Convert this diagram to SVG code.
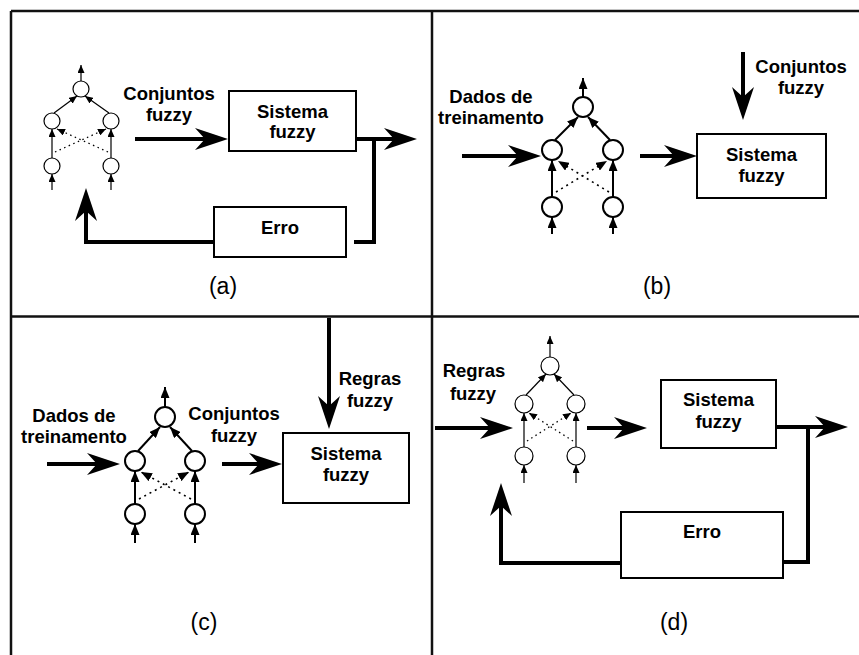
<svg xmlns="http://www.w3.org/2000/svg" width="859" height="655" viewBox="0 0 859 655">
<defs>
<style>
.frame{stroke:#111;stroke-width:2.5;fill:none}
.box{fill:#fff;stroke:#000;stroke-width:2}
.lbl{font-family:"Liberation Sans",Arial,sans-serif;font-weight:bold;font-size:18.5px;text-anchor:middle;fill:#000}
.cap{font-family:"Liberation Sans",Arial,sans-serif;font-size:23px;text-anchor:middle;fill:#000}
.big{stroke:#000;stroke-width:4;fill:none;marker-end:url(#bigArrow)}
.wire{stroke:#000;stroke-width:4;fill:none}
.neuron{fill:#fff;stroke:#000}
.thin .neuron{stroke-width:1.2}
.thick .neuron{stroke-width:2}
.thin .e{stroke:#000;stroke-width:1.2;fill:none;marker-end:url(#sm)}
.thin .d{stroke:#000;stroke-width:1.3;fill:none;stroke-dasharray:1.5 3.5;marker-end:url(#sm)}
.thick .e{stroke:#000;stroke-width:2;fill:none;marker-end:url(#md)}
.thick .d{stroke:#000;stroke-width:1.6;fill:none;stroke-dasharray:2 4;marker-end:url(#md)}
</style>
<marker id="bigArrow" markerUnits="userSpaceOnUse" markerWidth="36" markerHeight="24" refX="10" refY="11" orient="auto">
<path d="M0,0 L33,11 L0,22 L10,11 z" fill="#000"/>
</marker>
<marker id="sm" markerUnits="userSpaceOnUse" markerWidth="8" markerHeight="7" refX="8" refY="3.5" orient="auto">
<path d="M0,0 L8,3.5 L0,7 z" fill="#000"/>
</marker>
<marker id="md" markerUnits="userSpaceOnUse" markerWidth="11" markerHeight="9" refX="11" refY="4.5" orient="auto">
<path d="M0,0 L11,4.5 L0,9 z" fill="#000"/>
</marker>
</defs>
<rect width="859" height="655" fill="#fff"/>

<g id="frame">
<line class="frame" x1="11" y1="11" x2="859" y2="11"/>
<line class="frame" x1="11" y1="11" x2="11" y2="655"/>
<line class="frame" x1="11" y1="316.5" x2="859" y2="316.5"/>
<line class="frame" x1="432" y1="11" x2="432" y2="655"/>
</g>

<!-- Panel (a) -->
<g id="net-a" class="thin">
<circle class="neuron" cx="81" cy="89" r="8"/>
<circle class="neuron" cx="52" cy="121" r="8"/>
<circle class="neuron" cx="111" cy="121" r="8"/>
<circle class="neuron" cx="52" cy="166" r="8"/>
<circle class="neuron" cx="111" cy="166" r="8"/>
<line class="e" x1="81" y1="81" x2="81" y2="65"/>
<line class="e" x1="54" y1="113" x2="77" y2="96"/>
<line class="e" x1="109" y1="113" x2="85" y2="96"/>
<line class="e" x1="52" y1="158" x2="52" y2="129"/>
<line class="e" x1="111" y1="158" x2="111" y2="129"/>
<line class="d" x1="55" y1="152" x2="106" y2="129"/>
<line class="d" x1="108" y1="152" x2="57" y2="129"/>
<line class="e" x1="52" y1="190" x2="52" y2="174"/>
<line class="e" x1="111" y1="190" x2="111" y2="174"/>
</g>
<g id="sistema-a">
<rect class="box" x="229" y="91" width="127" height="60"/>
<text class="lbl" x="292.5" y="118">Sistema</text>
<text class="lbl" x="292.5" y="138">fuzzy</text>
</g>
<g id="erro-a">
<rect class="box" x="214" y="207" width="132" height="50"/>
<text class="lbl" x="280" y="234">Erro</text>
</g>
<text class="lbl" x="169" y="100">Conjuntos</text>
<text class="lbl" x="169" y="121">fuzzy</text>
<text class="cap" x="223" y="294">(a)</text>

<!-- Panel (b) -->
<g id="net-b" class="thick">
<circle class="neuron" cx="583" cy="107" r="10"/>
<circle class="neuron" cx="552" cy="150" r="10"/>
<circle class="neuron" cx="613" cy="150" r="10"/>
<circle class="neuron" cx="552" cy="207" r="10"/>
<circle class="neuron" cx="613" cy="207" r="10"/>
<line class="e" x1="583" y1="97" x2="583" y2="78"/>
<line class="e" x1="555" y1="140" x2="578" y2="117"/>
<line class="e" x1="610" y1="140" x2="588" y2="117"/>
<line class="e" x1="552" y1="197" x2="552" y2="160"/>
<line class="e" x1="613" y1="197" x2="613" y2="160"/>
<line class="d" x1="556" y1="192" x2="607" y2="161"/>
<line class="d" x1="609" y1="192" x2="558" y2="161"/>
<line class="e" x1="552" y1="234" x2="552" y2="217"/>
<line class="e" x1="613" y1="234" x2="613" y2="217"/>
</g>
<g id="sistema-b">
<rect class="box" x="697" y="134" width="129" height="64"/>
<text class="lbl" x="761.5" y="161">Sistema</text>
<text class="lbl" x="761.5" y="182">fuzzy</text>
</g>
<text class="lbl" x="491" y="103">Dados de</text>
<text class="lbl" x="491" y="124">treinamento</text>
<text class="lbl" x="801" y="73">Conjuntos</text>
<text class="lbl" x="801" y="94">fuzzy</text>
<text class="cap" x="657" y="294">(b)</text>

<!-- Panel (c) -->
<g id="net-c" class="thick">
<circle class="neuron" cx="165" cy="417" r="10"/>
<circle class="neuron" cx="135" cy="461" r="10"/>
<circle class="neuron" cx="195" cy="461" r="10"/>
<circle class="neuron" cx="135" cy="514" r="10"/>
<circle class="neuron" cx="195" cy="514" r="10"/>
<line class="e" x1="165" y1="407" x2="165" y2="387"/>
<line class="e" x1="138" y1="451" x2="160" y2="427"/>
<line class="e" x1="192" y1="451" x2="170" y2="427"/>
<line class="e" x1="135" y1="504" x2="135" y2="471"/>
<line class="e" x1="195" y1="504" x2="195" y2="471"/>
<line class="d" x1="139" y1="499" x2="189" y2="472"/>
<line class="d" x1="191" y1="499" x2="141" y2="472"/>
<line class="e" x1="135" y1="543" x2="135" y2="524"/>
<line class="e" x1="195" y1="543" x2="195" y2="524"/>
</g>
<g id="sistema-c">
<rect class="box" x="283" y="433" width="126" height="70"/>
<text class="lbl" x="346" y="460">Sistema</text>
<text class="lbl" x="346" y="481">fuzzy</text>
</g>
<text class="lbl" x="74" y="422">Dados de</text>
<text class="lbl" x="74" y="443">treinamento</text>
<text class="lbl" x="234" y="420">Conjuntos</text>
<text class="lbl" x="234" y="442">fuzzy</text>
<text class="lbl" x="370" y="385">Regras</text>
<text class="lbl" x="370" y="407">fuzzy</text>
<text class="cap" x="204" y="630">(c)</text>

<!-- Panel (d) -->
<g id="net-d" class="thin">
<circle class="neuron" cx="550" cy="366" r="9"/>
<circle class="neuron" cx="524" cy="404" r="9"/>
<circle class="neuron" cx="576" cy="404" r="9"/>
<circle class="neuron" cx="524" cy="456" r="9"/>
<circle class="neuron" cx="576" cy="456" r="9"/>
<line class="e" x1="550" y1="357" x2="550" y2="336"/>
<line class="e" x1="526" y1="395" x2="546" y2="374"/>
<line class="e" x1="574" y1="395" x2="554" y2="374"/>
<line class="e" x1="524" y1="447" x2="524" y2="413"/>
<line class="e" x1="576" y1="447" x2="576" y2="413"/>
<line class="d" x1="527" y1="441" x2="571" y2="413"/>
<line class="d" x1="573" y1="441" x2="529" y2="413"/>
<line class="e" x1="524" y1="483" x2="524" y2="465"/>
<line class="e" x1="576" y1="483" x2="576" y2="465"/>
</g>
<g id="sistema-d">
<rect class="box" x="661" y="380" width="115" height="68"/>
<text class="lbl" x="718.5" y="406">Sistema</text>
<text class="lbl" x="718.5" y="428">fuzzy</text>
</g>
<g id="erro-d">
<rect class="box" x="621" y="512" width="162" height="66"/>
<text class="lbl" x="702" y="538">Erro</text>
</g>
<text class="lbl" x="474" y="377">Regras</text>
<text class="lbl" x="473" y="400">fuzzy</text>
<text class="cap" x="674" y="630">(d)</text>

<g id="connectors">
<!-- (a) -->
<line class="big" x1="135" y1="139" x2="205" y2="139"/>
<line class="big" x1="356" y1="139" x2="394" y2="139"/>
<polyline class="wire" points="374,139 374,242 354,242"/>
<polyline class="big" points="214,242 86,242 86,211"/>
<!-- (b) -->
<line class="big" x1="462" y1="156" x2="518" y2="156"/>
<line class="big" x1="640" y1="156" x2="674" y2="156"/>
<line class="big" x1="743" y1="52" x2="743" y2="97"/>
<!-- (c) -->
<line class="big" x1="47" y1="464" x2="97" y2="464"/>
<line class="big" x1="222" y1="464" x2="259" y2="464"/>
<line class="big" x1="329" y1="318" x2="329" y2="406"/>
<!-- (d) -->
<line class="big" x1="435" y1="428" x2="490" y2="428"/>
<line class="big" x1="587" y1="428" x2="624" y2="428"/>
<line class="big" x1="776" y1="427" x2="825" y2="427"/>
<polyline class="wire" points="808,427 808,562 783,562"/>
<polyline class="big" points="621,563 501,563 501,506"/>
</g>
</svg>
